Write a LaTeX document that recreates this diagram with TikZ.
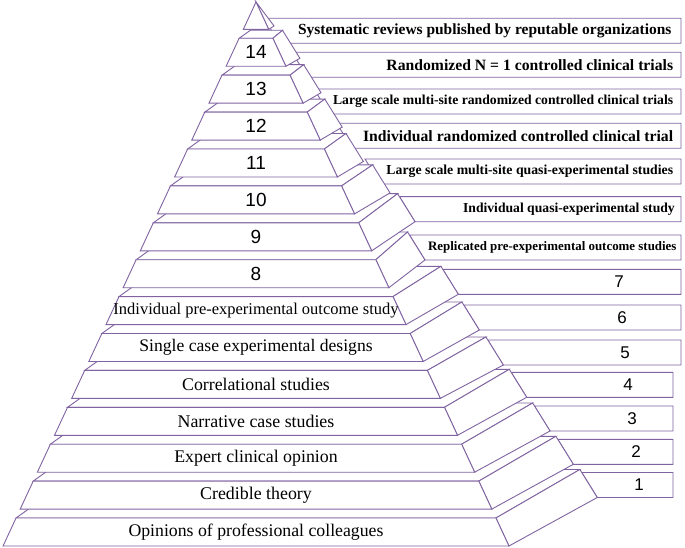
\documentclass[tikz,border=0pt]{standalone}
\usepackage{fontspec}
\setmainfont{Liberation Serif}
\newfontfamily\numfont{Liberation Sans}
\definecolor{edge}{HTML}{8064A2}
\tikzset{
  face/.style={draw=edge, fill=white, line width=0.9pt, line join=miter},
  fronttext/.style={inner sep=0pt, anchor=center},
  boxtext/.style={inner sep=0pt, anchor=east, font=\bfseries},
  frontnum/.style={inner sep=0pt, anchor=center, font=\numfont\fontsize{19}{19}\selectfont},
  boxnum/.style={inner sep=0pt, anchor=center, font=\numfont\fontsize{17}{17}\selectfont}
}
% label box: #1 bottom-left x, #2 bottom y, #3 right x
\newcommand{\pyrbox}[3]{%
  \filldraw[face] ({#1-15.5},{#2-25}) -- (#3,{#2-25}) -- (#3,#2) -- (#1,#2) -- cycle;
}
% level: #1 index, #2 dx, #3 dy (depth of the side face)
\newcommand{\pyrlevel}[3]{%
  \pgfmathsetmacro{\yb}{546-(#1-1)*36.9}%
  \pgfmathsetmacro{\yt}{\yb-28}%
  \pgfmathsetmacro{\xlb}{256-0.465*(\yb-2)}%
  \pgfmathsetmacro{\xlt}{256-0.465*(\yt-2)}%
  \pgfmathsetmacro{\xrb}{256+0.465*(\yb-2)}%
  \pgfmathsetmacro{\xrt}{256+0.465*(\yt-2)}%
  \pgfmathsetmacro{\Cx}{\xrb+#2}%
  \pgfmathsetmacro{\Cy}{\yb+#3}%
  \pgfmathsetmacro{\Ex}{\Cx-17.4}%
  \pgfmathsetmacro{\Ey}{\Cy-28}%
  \pgfmathsetmacro{\BLx}{\xlt+1.4*(\yt-\Ey)}%
  \filldraw[face] (\xlt,\yt) -- (\xrt,\yt) -- (\Ex,\Ey) -- (\BLx,\Ey) -- cycle;
  \filldraw[face] (\xrt,\yt) -- (\Ex,\Ey) -- (\Cx,\Cy) -- (\xrb,\yb) -- cycle;
  \filldraw[face] (\xlb,\yb) -- (\xlt,\yt) -- (\xrt,\yt) -- (\xrb,\yb) -- cycle;
  \coordinate (fc#1) at (256,{(\yb+\yt)/2});
}
\begin{document}
\begin{tikzpicture}[x=1pt,y=-1pt]
\useasboundingbox (0,0) rectangle (685,548);
\fill[white] (0,0) rectangle (685,548);
% label boxes (behind the pyramid)
\pyrbox{597.3}{497.5}{673}
\pyrbox{573.3}{464.3}{673}
\pyrbox{550}{431}{673}
\pyrbox{526.7}{397.3}{673}
\pyrbox{503.3}{365}{681}
\pyrbox{479.3}{330}{681}
\pyrbox{458.3}{294.3}{681}
\pyrbox{425}{260}{681}
\pyrbox{415}{221.7}{681}
\pyrbox{380.5}{184}{681}
\pyrbox{352.2}{148.3}{681}
\pyrbox{329.5}{114}{681}
\pyrbox{307.5}{77.3}{681}
\pyrbox{279.5}{43.3}{681}
% pyramid levels, bottom to top
\pyrlevel{1}{88.3}{-48.5}
\pyrlevel{2}{81.5}{-44.8}
\pyrlevel{3}{75.4}{-41.2}
\pyrlevel{4}{69.2}{-38}
\pyrlevel{5}{63}{-33.4}
\pyrlevel{6}{56.1}{-31.5}
\pyrlevel{7}{52.3}{-30.3}
\pyrlevel{8}{36.1}{-27.7}
\pyrlevel{9}{43.3}{-29.1}
\pyrlevel{10}{35.5}{-21}
\pyrlevel{11}{26}{-15.5}
\pyrlevel{12}{22}{-13}
\pyrlevel{13}{18}{-10.5}
\pyrlevel{14}{14}{-8}
% apex
\filldraw[face] (256,2) -- (274,26) -- (268.7,29.4) -- cycle;
\filldraw[face] (256,2) -- (243.3,29.4) -- (268.7,29.4) -- cycle;
% front texts
\node[fronttext] (t1) at (fc1) {\resizebox{255pt}{!}{Opinions of professional colleagues}};
\node[fronttext] (t2) at (fc2) {\resizebox{111.7pt}{!}{Credible theory}};
\node[fronttext] (t3) at (fc3) {\resizebox{163.3pt}{!}{Expert clinical opinion}};
\node[fronttext] (t4) at (fc4) {\resizebox{156.7pt}{!}{Narrative case studies}};
\node[fronttext] (t5) at (fc5) {\resizebox{147.7pt}{!}{Correlational studies}};
\node[fronttext] (t6) at (fc6) {\resizebox{233.3pt}{!}{Single case experimental designs}};
\node[fronttext] (t7) at (fc7) {\resizebox{285pt}{!}{Individual pre-experimental outcome study}};
\node[frontnum] (n8) at (fc8) {8};
\node[frontnum] (n9) at (fc9) {9};
\node[frontnum] (n10) at (fc10) {10};
\node[frontnum] (n11) at (fc11) {11};
\node[frontnum] (n12) at (fc12) {12};
\node[frontnum] (n13) at (fc13) {13};
\node[frontnum] (n14) at (fc14) {14};
% box numbers
\node[boxnum] (b1) at (639,485) {1};
\node[boxnum] (b2) at (636,451.8) {2};
\node[boxnum] (b3) at (632,418.5) {3};
\node[boxnum] (b4) at (628,384.8) {4};
\node[boxnum] (b5) at (625,352.5) {5};
\node[boxnum] (b6) at (622,317.5) {6};
\node[boxnum] (b7) at (619,281.8) {7};
% box texts
\node[boxtext] (r8) at (676.7,247.5) {\resizebox{248.4pt}{!}{Replicated pre-experimental outcome studies}};
\node[boxtext] (r9) at (675,209.2) {\resizebox{211.7pt}{!}{Individual quasi-experimental study}};
\node[boxtext] (r10) at (673.3,171.5) {\resizebox{286.6pt}{!}{Large scale multi-site quasi-experimental studies}};
\node[boxtext] (r11) at (673.3,135.8) {\resizebox{310pt}{!}{Individual randomized controlled clinical trial}};
\node[boxtext] (r12) at (673.3,101.5) {\resizebox{340pt}{!}{Large scale multi-site randomized controlled clinical trials}};
\node[boxtext] (r13) at (673.3,64.8) {\resizebox{286.6pt}{!}{Randomized N = 1 controlled clinical trials}};
\node[boxtext] (r14) at (671.7,30.8) {\resizebox{373.4pt}{!}{Systematic reviews published by reputable organizations}};
\end{tikzpicture}
\end{document}
